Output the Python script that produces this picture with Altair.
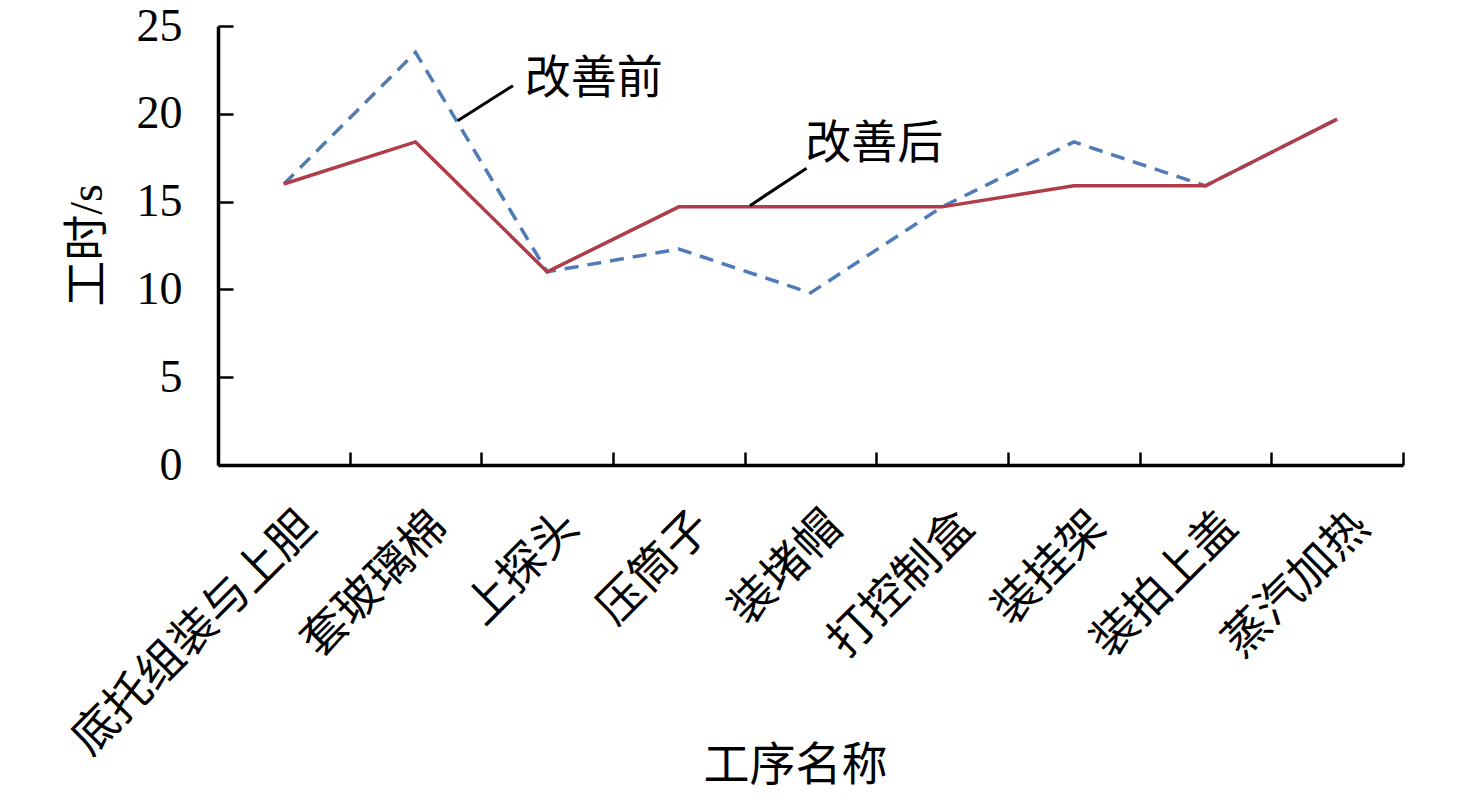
import json
import pandas as pd
import altair as alt

# %%
steps = ["底托组装与上胆", "套玻璃棉", "上探头", "压筒子", "装堵帽",
         "打控制盒", "装挂架", "装拍上盖", "蒸汽加热"]
before = [16.0, 23.5, 11.0, 12.3, 9.8, 14.7, 18.4, 15.9, 19.7]
after = [16.0, 18.4, 11.0, 14.7, 14.7, 14.7, 15.9, 15.9, 19.7]

y_ticks = [0, 5, 10, 15, 20, 25]
x_edges = [i - 0.5 for i in range(len(steps) + 1)]

# annotation text and leader lines, in data units
note_text = ["改善前", "改善后"]
note_x = [1.83, 3.96]
note_y = [22.0, 18.3]
lead_x = [1.32, 3.54]
lead_y = [19.6, 14.77]
lead_x2 = [1.74, 3.97]
lead_y2 = [21.6, 16.9]

df_before = pd.DataFrame({"idx": range(len(steps)), "v": before})
df_after = pd.DataFrame({"idx": range(len(steps)), "v": after})
notes = pd.DataFrame({"x": note_x, "y": note_y, "t": note_text})
leads = pd.DataFrame({"x": lead_x, "y": lead_y, "x2": lead_x2, "y2": lead_y2})

# %%
W, H = 1185, 439
FONT = "Liberation Serif, Noto Sans CJK SC"
xs = alt.Scale(domain=[-0.5, len(steps) - 0.5], nice=False, zero=False)
ys = alt.Scale(domain=[0, 25], nice=False)

base_x = alt.X(
    "idx:Q", scale=xs,
    axis=alt.Axis(
        values=list(range(len(steps))),
        labelExpr=json.dumps(steps, ensure_ascii=False) + "[datum.value]",
        labelAngle=-45, labelAlign="right", labelBaseline="middle",
        labelPadding=54, labelOffset=24, labelLimit=0,
        labelOverlap=False, labelFlush=False, labelBound=False,
        ticks=False, tickSize=0, grid=False,
        domainColor="black", domainWidth=3.5,
        labelFont=FONT, labelFontSize=46, labelColor="black",
        title="工序名称", titleFont=FONT, titleFontSize=46,
        titleFontWeight="normal", titleColor="black",
        titleX=577, titleY=300, titleAlign="center", titleBaseline="middle"))
base_y = alt.Y(
    "v:Q", scale=ys,
    axis=alt.Axis(
        values=y_ticks, ticks=False, tickSize=0, grid=False,
        labelPadding=36, labelFont=FONT, labelFontSize=46, labelColor="black",
        domainColor="black", domainWidth=3.5,
        title="工时/s", titleFont=FONT, titleFontSize=46,
        titleFontWeight="normal", titleColor="black",
        titleX=-131, titleY=219, titleAlign="center", titleBaseline="middle"))

blue = alt.Chart(df_before).mark_line(
    color="#4F7CB8", strokeWidth=3.5, strokeDash=[14, 9]
).encode(x=base_x, y=base_y)

red = alt.Chart(df_after).mark_line(color="#B03C4A", strokeWidth=3.5).encode(
    x=alt.X("idx:Q", scale=xs, axis=None),
    y=alt.Y("v:Q", scale=ys, axis=None))

# inward tick marks: extra axes pulled back onto the plot edges
ticks = alt.Chart(df_before).mark_point(opacity=0).encode(
    x=alt.X("idx:Q", scale=xs, axis=alt.Axis(
        orient="top", offset=-H, values=x_edges, labels=False, domain=False,
        grid=False, tickSize=13, tickWidth=2.5, tickColor="black", title=None)),
    y=alt.Y("v:Q", scale=ys, axis=alt.Axis(
        orient="right", offset=-W, values=y_ticks, labels=False, domain=False,
        grid=False, tickSize=15, tickWidth=2.5, tickColor="black", title=None)))

leader = alt.Chart(leads).mark_rule(color="black", strokeWidth=3).encode(
    x=alt.X("x:Q", scale=xs, axis=None), y=alt.Y("y:Q", scale=ys, axis=None),
    x2="x2", y2="y2")

labels = alt.Chart(notes).mark_text(
    font="Noto Sans CJK SC", fontSize=46, align="left", baseline="middle",
    color="black"
).encode(
    x=alt.X("x:Q", scale=xs, axis=None), y=alt.Y("y:Q", scale=ys, axis=None),
    text="t:N")

chart = alt.layer(blue, red, ticks, leader, labels).resolve_axis(
    x="independent", y="independent"
).properties(
    width=W, height=H,
    autosize=alt.AutoSizeParams(type="none"),
    padding={"left": 210, "top": 18, "right": 52, "bottom": 327}
).configure_view(stroke=None)

chart.save("out.html", embed_options={"renderer": "svg", "actions": False})
